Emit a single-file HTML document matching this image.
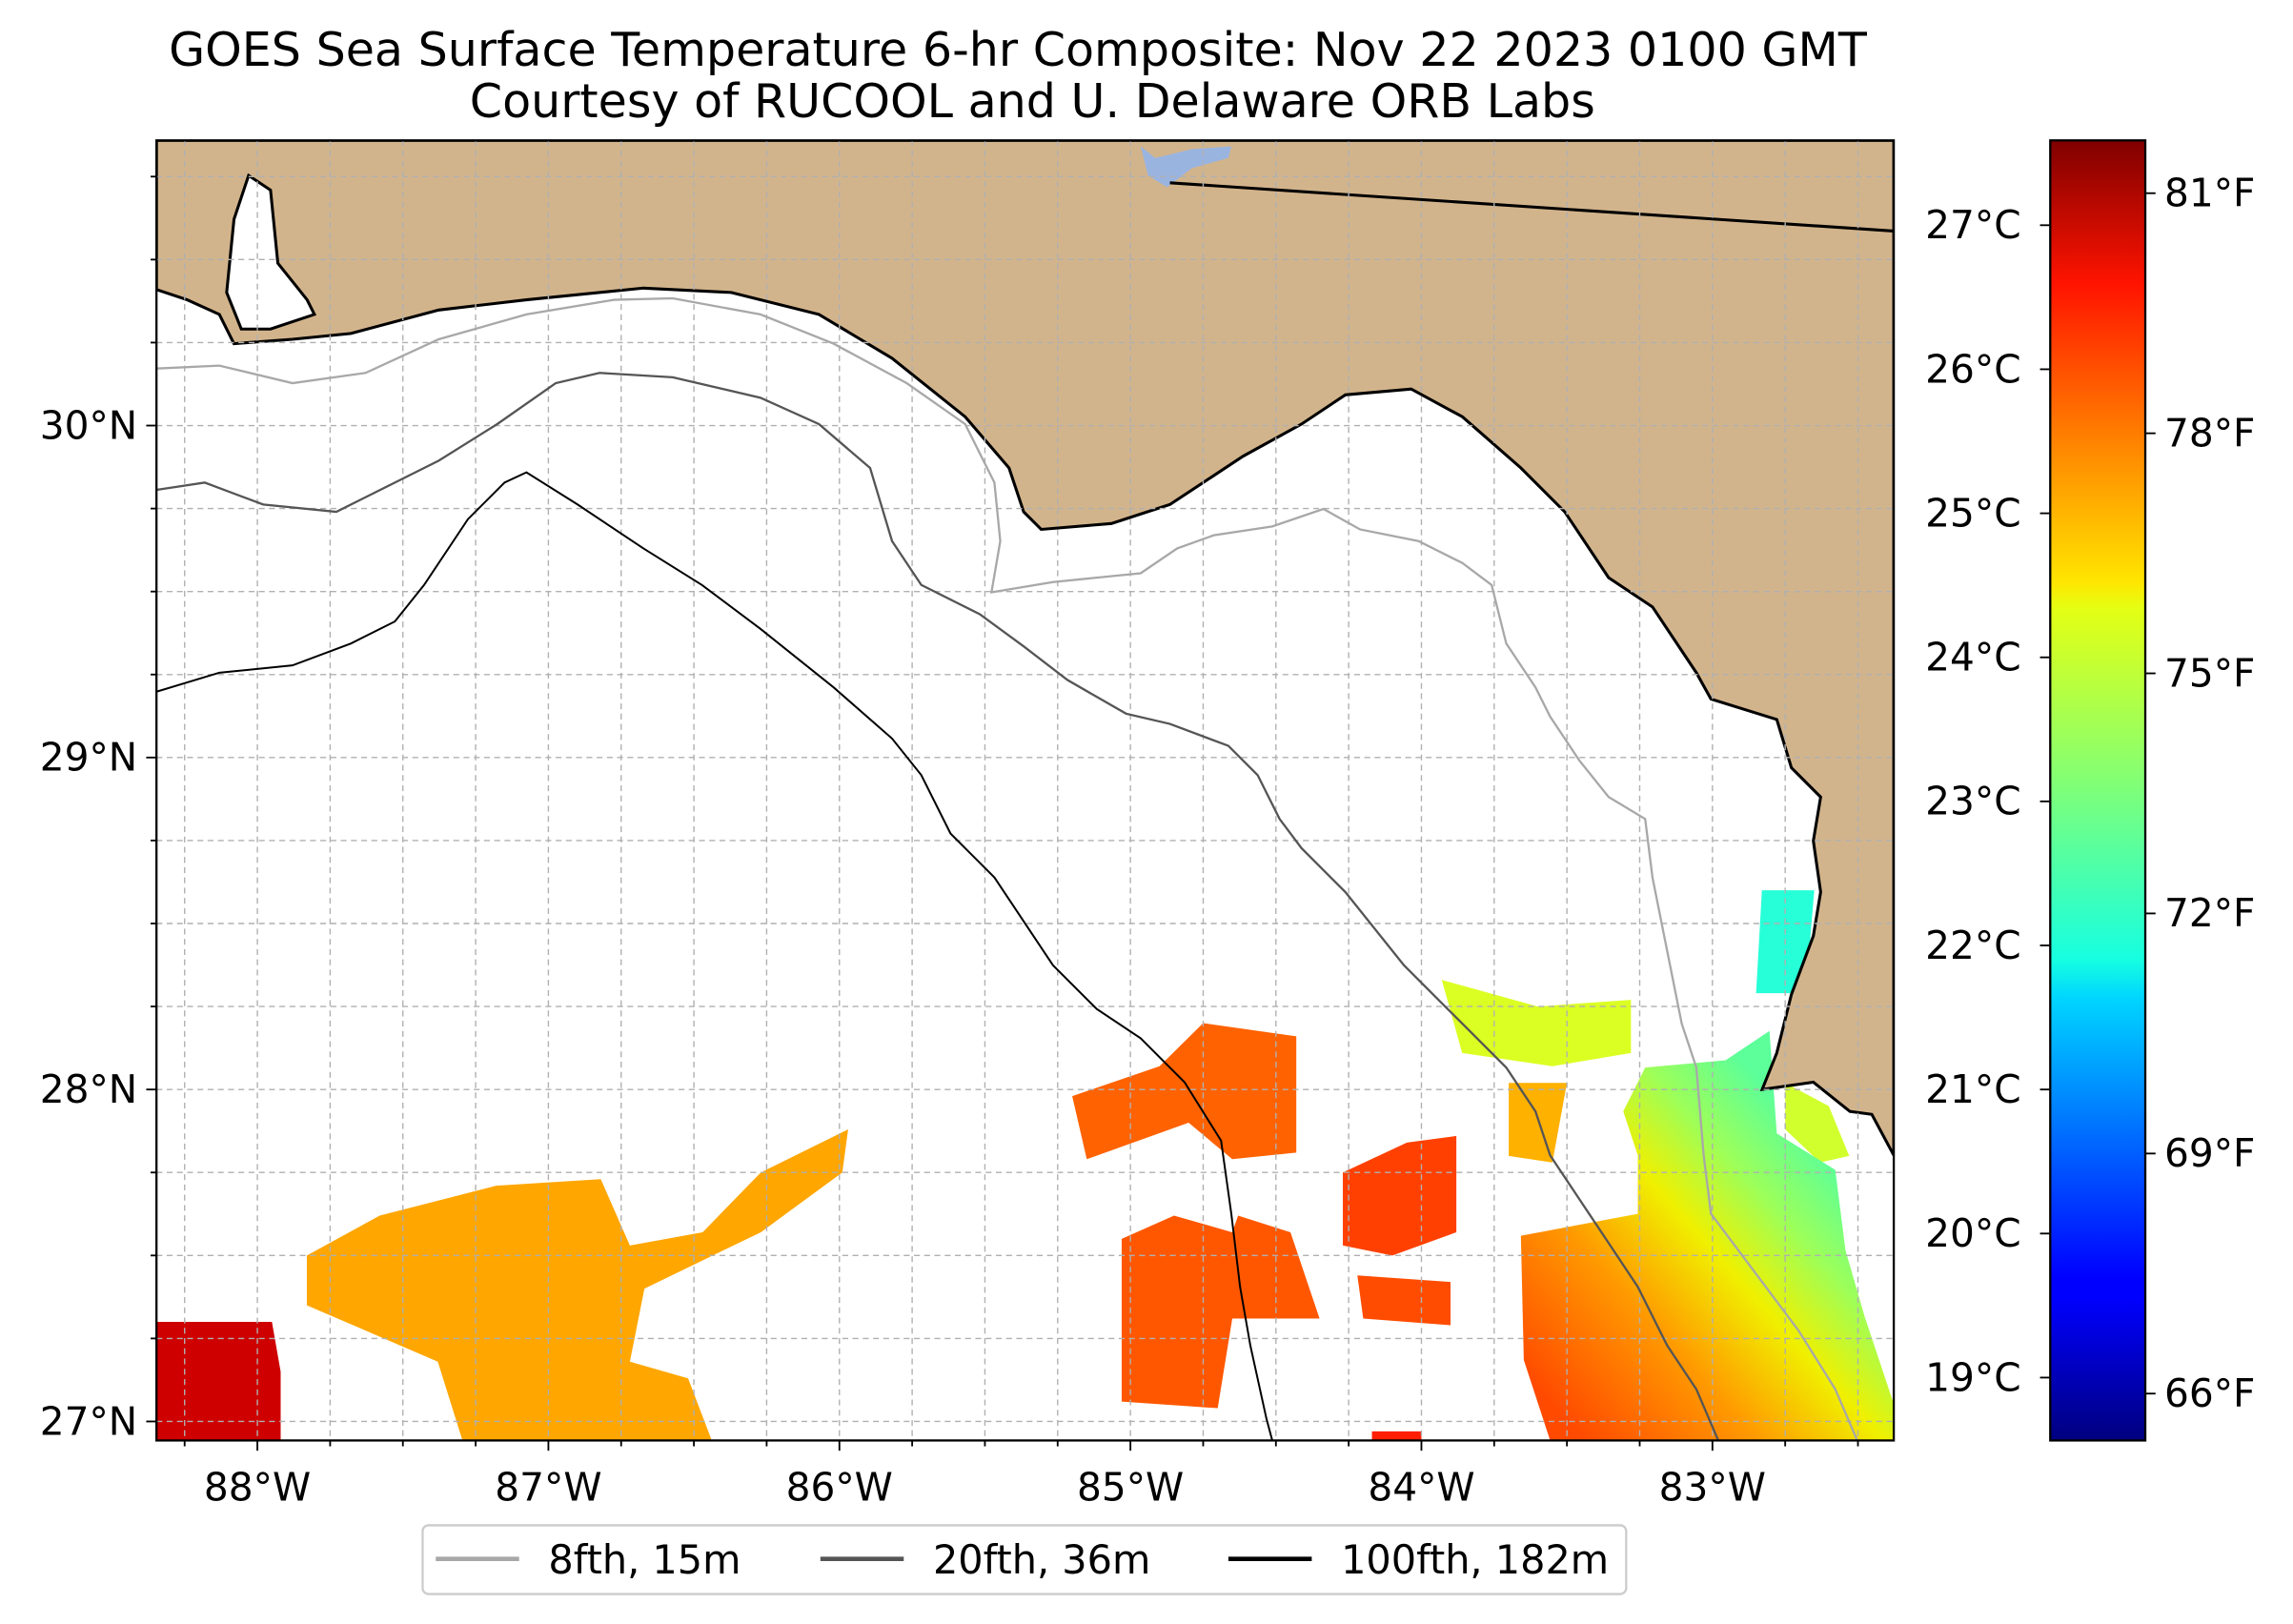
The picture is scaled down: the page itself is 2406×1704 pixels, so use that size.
<!DOCTYPE html>
<html><head><meta charset="utf-8"><style>
html,body{margin:0;padding:0;background:#fff;}
svg{display:block;font-family:"DejaVu Sans","Liberation Sans",sans-serif;}
</style></head><body>
<svg id="chart" width="2406" height="1704" viewBox="0 0 1568 1110.5" preserveAspectRatio="none" xmlns="http://www.w3.org/2000/svg">
<defs>
<clipPath id="mapclip"><rect x="107" y="96" width="1188" height="889"/></clipPath>
<linearGradient id="jet" x1="0" y1="1" x2="0" y2="0">
<stop offset="0" stop-color="#00007f"/><stop offset="0.11" stop-color="#0000ff"/><stop offset="0.125" stop-color="#0000ff"/>
<stop offset="0.34" stop-color="#00d5ff"/><stop offset="0.37" stop-color="#16ffe1"/><stop offset="0.5" stop-color="#7dff7a"/>
<stop offset="0.64" stop-color="#e4ff13"/><stop offset="0.66" stop-color="#ffe600"/><stop offset="0.89" stop-color="#ff1300"/>
<stop offset="1" stop-color="#7f0000"/></linearGradient>
<linearGradient id="seGrad" gradientUnits="userSpaceOnUse" x1="1060" y1="960" x2="1250" y2="790">
<stop offset="0" stop-color="#ff4a00"/><stop offset="0.35" stop-color="#ff9a00"/><stop offset="0.6" stop-color="#f0f000"/><stop offset="0.8" stop-color="#9cff5a"/><stop offset="1" stop-color="#5cff9a"/></linearGradient>
</defs>
<text x="696" y="45" font-size="32" text-anchor="middle">GOES Sea Surface Temperature 6-hr Composite: Nov 22 2023 0100 GMT</text>
<text x="706" y="80" font-size="32" text-anchor="middle">Courtesy of RUCOOL and U. Delaware ORB Labs</text>
<g clip-path="url(#mapclip)">
<rect x="107" y="96" width="1188" height="889" fill="#fff"/>
<g id="sst"></g>
<path fill="url(#seGrad)" d="M1040,845 L1120,830 L1120,790 L1110,760 L1125,730 L1180,725 L1210,705 L1215,775 L1255,800 L1262,855 L1275,900 L1295,960 L1295,985 L1060,985 L1042,930 Z"/>
<path fill="#d2b48c" stroke="#000" stroke-width="2" d="M107,96 L107,198 L128,205 L150,215 L160,235 L200,232 L240,228 L300,212 L360,205 L440,197 L500,200 L560,215 L610,245 L660,285 L690,320 L700,350 L712,362 L760,358 L800,345 L850,312 L890,290 L920,270 L965,266 L1000,285 L1040,320 L1070,350 L1100,395 L1130,415 L1160,460 L1170,478 L1215,492 L1225,525 L1245,545 L1240,575 L1245,610 L1240,640 L1225,680 L1215,720 L1205,745 L1240,740 L1265,760 L1280,762 L1295,790 L1295,96 Z"/>
<path fill="#fff" stroke="#000" stroke-width="2" d="M160,150 L170,120 L185,130 L190,180 L210,205 L215,215 L185,225 L165,225 L155,200 Z"/>
<path fill="#9ab4e0" d="M780,100 L790,108 L815,102 L842,100 L840,108 L815,115 L798,128 L785,120 Z"/>
<path fill="none" stroke="#000" stroke-width="2" d="M800,125 L1295,158"/>
<g id="grid" stroke="#b0b0b0" stroke-width="0.9" stroke-dasharray="4,3"></g>
<path fill="none" stroke="#a8a8a8" stroke-width="1.5" d="M107,252 L150,250 L200,262 L250,255 L300,232 L360,215 L420,205 L460,204 L520,215 L570,235 L620,262 L660,290 L680,330 L684,370 L678,405 L720,398 L780,392 L805,375 L830,366 L870,360 L905,348 L930,362 L970,370 L1000,385 L1020,400 L1030,440 L1050,470 L1060,490 L1080,520 L1100,545 L1125,560 L1130,600 L1140,650 L1150,700 L1160,730 L1165,790 L1170,830 L1200,870 L1230,910 L1255,950 L1270,985"/>
<path fill="none" stroke="#555" stroke-width="1.5" d="M107,335 L140,330 L180,345 L230,350 L270,330 L300,315 L340,290 L380,262 L410,255 L460,258 L520,272 L560,290 L595,320 L610,370 L630,400 L670,420 L700,442 L730,465 L770,488 L800,495 L840,510 L860,530 L875,560 L890,580 L920,610 L960,660 L990,690 L1010,710 L1030,730 L1050,760 L1060,790 L1080,820 L1100,850 L1120,880 L1140,920 L1160,950 L1175,985"/>
<path fill="none" stroke="#000" stroke-width="1.3" d="M107,473 L150,460 L200,455 L240,440 L270,425 L290,400 L320,355 L345,330 L360,323 L395,345 L440,375 L480,400 L520,430 L570,470 L610,505 L630,530 L650,570 L680,600 L700,630 L720,660 L750,690 L780,710 L810,740 L835,780 L842,830 L848,880 L855,920 L866,970 L870,985"/>
</g>
<rect x="107" y="96" width="1188" height="889" fill="none" stroke="#000" stroke-width="1.5"/>
<g id="axes" font-size="26.5"></g>
<rect x="1402" y="96" width="65" height="889" fill="url(#jet)" stroke="#000" stroke-width="1.5"/>
<g id="cbar" font-size="26.5"></g>
<g>
<rect x="289" y="1043" width="823" height="47" rx="4" fill="#fff" stroke="#ccc" stroke-width="1.5"/>
<line x1="298" y1="1066" x2="355" y2="1066" stroke="#a8a8a8" stroke-width="3"/>
<text x="375" y="1076" font-size="27">8fth, 15m</text>
<line x1="561" y1="1066" x2="618" y2="1066" stroke="#555" stroke-width="3"/>
<text x="638" y="1076" font-size="27">20fth, 36m</text>
<line x1="840" y1="1066" x2="897" y2="1066" stroke="#000" stroke-width="3"/>
<text x="917" y="1076" font-size="27">100fth, 182m</text>
</g>
</svg>
<script>
const NS="http://www.w3.org/2000/svg";
const lonTicks=[88,87,86,85,84,83];
const latTicks=[30,29,28,27];
const cTicks=[27,26,25,24,23,22,21,20,19];
const fTicks=[81,78,75,72,69,66];
const tMin=18.56, tMax=27.6;
// SST patches: temperature (°C) and outlines in [lonW, latN]
const patchTemps=[26.9,25.0,25.6,25.7,25.9,25.8,26.2,23.9,22.3,24.9,23.8];
const patchShapes=[
 [[88.35,27.3],[87.95,27.3],[87.92,27.15],[87.92,26.9],[88.35,26.9]],
 [[87.83,27.5],[87.58,27.62],[87.18,27.71],[86.82,27.73],[86.72,27.53],[86.47,27.57],[86.27,27.75],[85.97,27.88],[85.99,27.75],[86.27,27.57],[86.67,27.4],[86.72,27.18],[86.52,27.13],[86.42,26.9],[87.28,26.9],[87.38,27.18],[87.83,27.35]],
 [[85.2,27.98],[84.9,28.07],[84.75,28.2],[84.43,28.16],[84.43,27.81],[84.65,27.79],[84.8,27.9],[85.15,27.79]],
 [[85.03,27.55],[84.85,27.62],[84.65,27.57],[84.63,27.62],[84.45,27.57],[84.35,27.31],[84.65,27.31],[84.7,27.04],[85.03,27.06],[85.03,27.4]],
 [[84.27,27.75],[84.05,27.84],[83.88,27.86],[83.88,27.57],[84.1,27.5],[84.27,27.53]],
 [[84.22,27.44],[83.9,27.42],[83.9,27.29],[84.2,27.31]],
 [[84.17,26.97],[84.0,26.97],[84.0,26.9],[84.17,26.9]],
 [[83.93,28.33],[83.6,28.25],[83.28,28.27],[83.28,28.11],[83.55,28.07],[83.86,28.11]],
 [[82.83,28.6],[82.65,28.6],[82.68,28.29],[82.85,28.29]],
 [[83.7,28.02],[83.5,28.02],[83.55,27.78],[83.7,27.8]],
 [[82.75,28.02],[82.6,27.95],[82.53,27.8],[82.63,27.78],[82.75,27.88]]
];
function xs(lonW){return 176+(88-lonW)*199;}
function ys(lat){return 291+(30-lat)*227;}
function jet(t){const v=(t-tMin)/(tMax-tMin);
 const r=Math.min(Math.max(Math.min(4*v-1.5,-4*v+4.5),0),1),g=Math.min(Math.max(Math.min(4*v-0.5,-4*v+3.5),0),1),b=Math.min(Math.max(Math.min(4*v+0.5,-4*v+2.5),0),1);
 return `rgb(${Math.round(r*255)},${Math.round(g*255)},${Math.round(b*255)})`;}
const sst=document.getElementById('sst');
patchShapes.forEach((s,i)=>{const p=document.createElementNS(NS,'polygon');
 p.setAttribute('points',s.map(q=>xs(q[0])+','+ys(q[1])).join(' '));
 p.setAttribute('fill',jet(patchTemps[i]));
 
 
 sst.appendChild(p);});
const grid=document.getElementById('grid');
for(let lon=88.5;lon>=82.25;lon-=0.25){const x=xs(lon);if(x<107||x>1295)continue;const l=document.createElementNS(NS,'line');
 l.setAttribute('x1',x);l.setAttribute('x2',x);l.setAttribute('y1',96);l.setAttribute('y2',985);
 
 
 grid.appendChild(l);}
for(let lat=26.75;lat<=31;lat+=0.25){const y=ys(lat);if(y<96||y>985)continue;const l=document.createElementNS(NS,'line');
 l.setAttribute('y1',y);l.setAttribute('y2',y);l.setAttribute('x1',107);l.setAttribute('x2',1295);
 
 
 grid.appendChild(l);}
const axes=document.getElementById('axes');
function txt(g,x,y,s,anchor,name){const t=document.createElementNS(NS,'text');t.setAttribute('x',x);t.setAttribute('y',y);t.setAttribute('text-anchor',anchor);t.textContent=s;
 
 
 g.appendChild(t);}
function ln(g,x1,y1,x2,y2){const l=document.createElementNS(NS,'line');l.setAttribute('x1',x1);l.setAttribute('y1',y1);l.setAttribute('x2',x2);l.setAttribute('y2',y2);l.setAttribute('stroke','#000');l.setAttribute('stroke-width','1.2');
 
 
 g.appendChild(l);}
for(let lon=88.25;lon>=82.5;lon-=0.25){const x=xs(lon);const major=Math.abs(lon-Math.round(lon))<1e-6;ln(axes,x,985,x,985+(major?7:4));}
for(let lat=27;lat<=30.75;lat+=0.25){const y=ys(lat);const major=Math.abs(lat-Math.round(lat))<1e-6;ln(axes,107,y,107-(major?7:4),y);}
lonTicks.forEach(l=>txt(axes,xs(l),1026,l+'°W','middle','x-tick-label'));
latTicks.forEach(l=>txt(axes,94,ys(l)+9,l+'°N','end','y-tick-label'));
const cbar=document.getElementById('cbar');
function yc(c){return 942-(c-19)*98.5;}
function yf(f){return yc((f-32)*5/9);}
cTicks.forEach(c=>{ln(cbar,1402,yc(c),1395,yc(c));txt(cbar,1382,yc(c)+9,c+'°C','end','colorbar-celsius-label');});
fTicks.forEach(f=>{ln(cbar,1467,yf(f),1474,yf(f));txt(cbar,1480,yf(f)+9,f+'°F','start','colorbar-fahrenheit-label');});
</script>
</body></html>
